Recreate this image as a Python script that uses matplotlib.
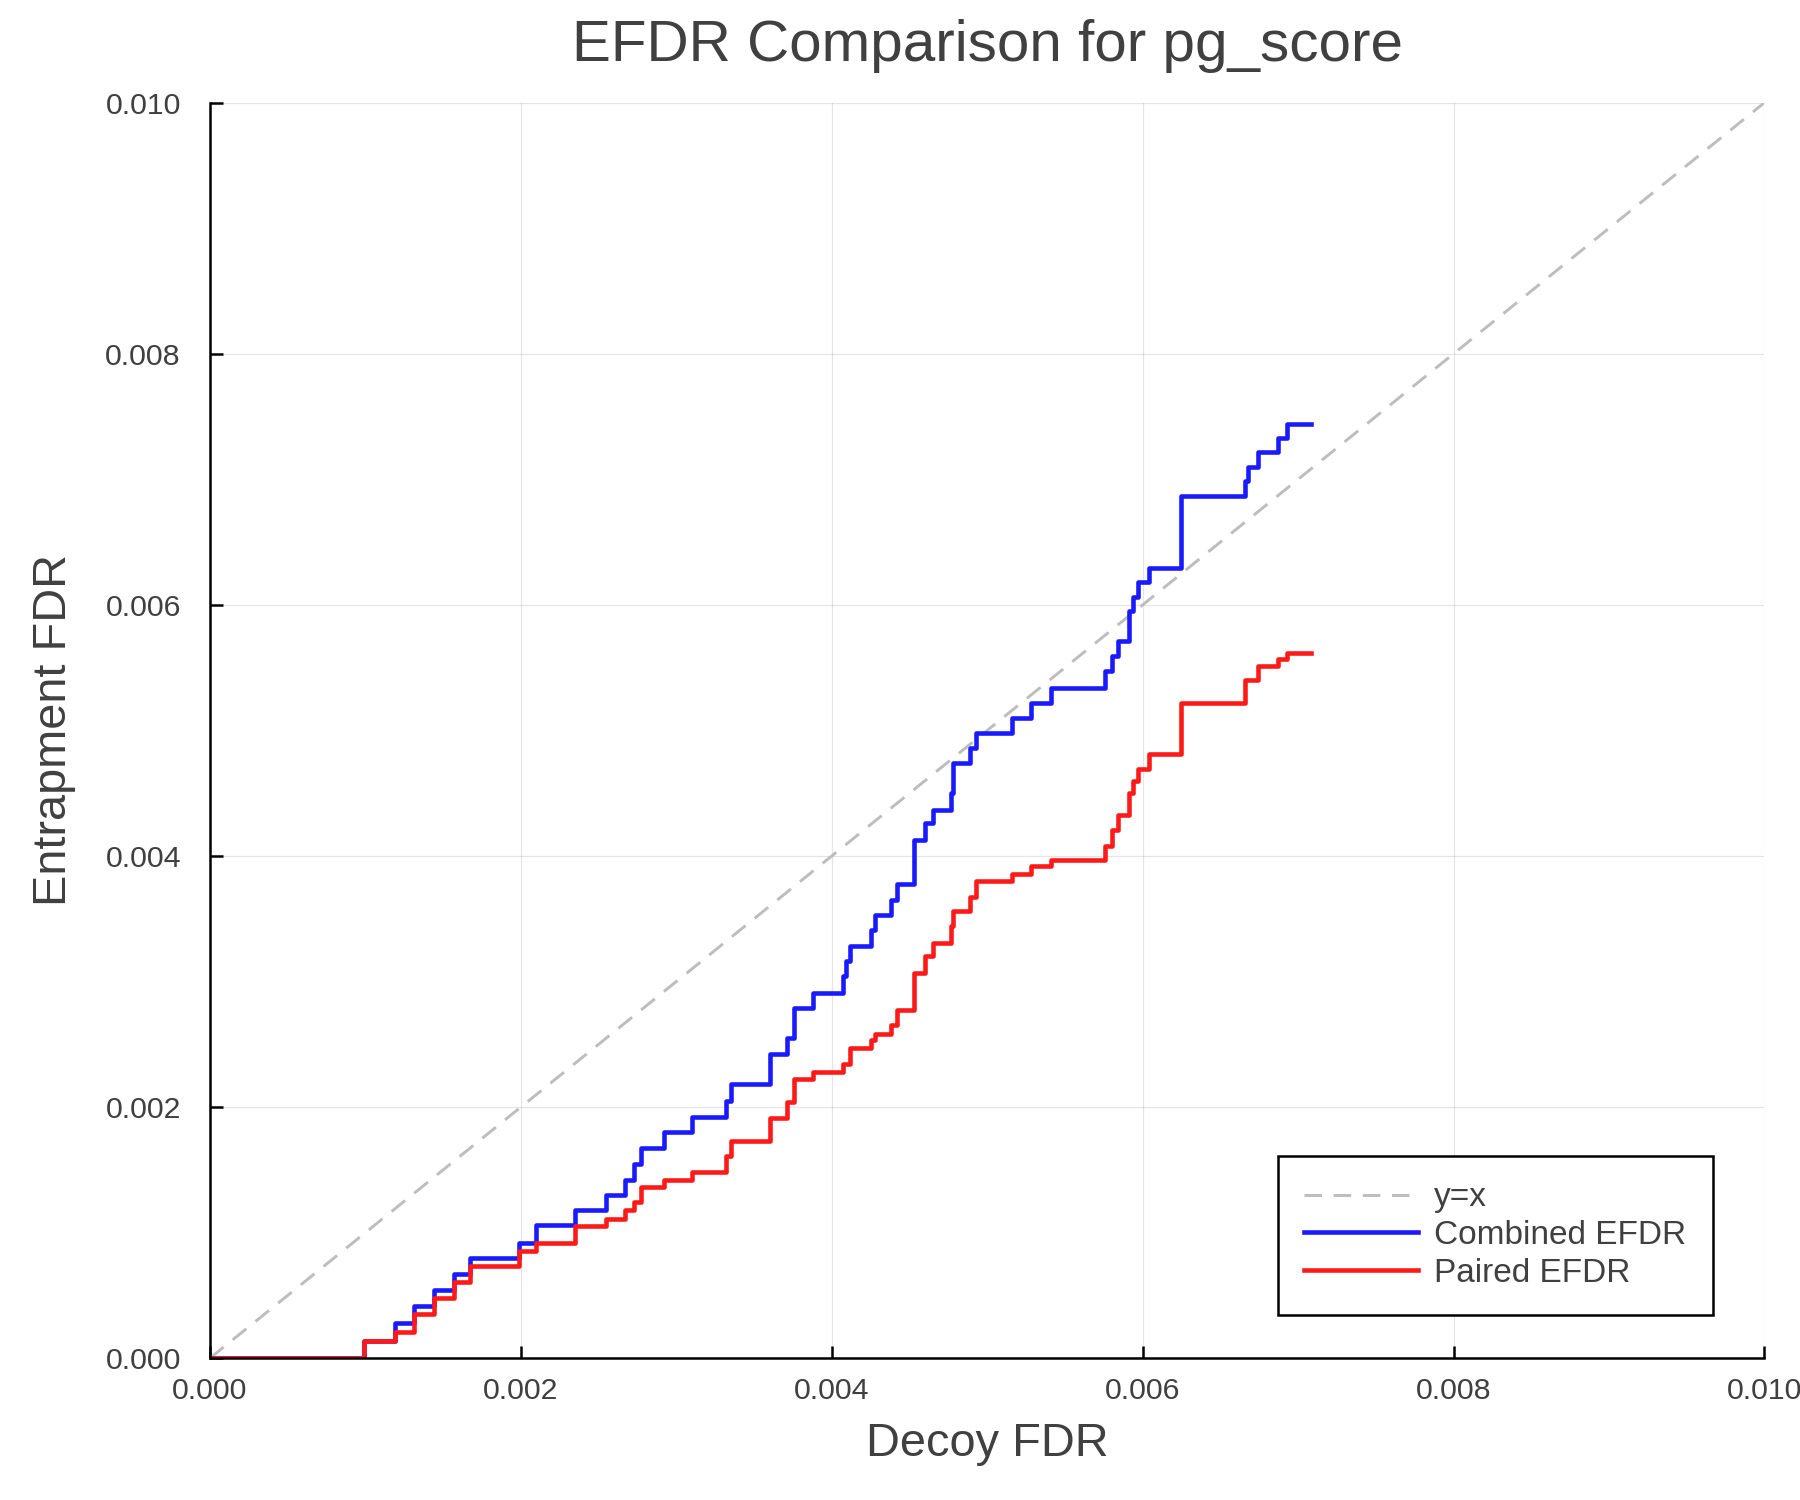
import matplotlib.pyplot as plt

plt.rcParams['font.family'] = ['Liberation Sans', 'DejaVu Sans']

# step breakpoints (decoy FDR -> entrapment FDR)
combined_x = [0.0, 0.00099, 0.00119, 0.00131, 0.00144, 0.00157, 0.00167, 0.00199,
              0.00210, 0.00235, 0.00255, 0.00267, 0.00273, 0.00277, 0.00292, 0.00310,
              0.00332, 0.00335, 0.00360, 0.00371, 0.00376, 0.00388, 0.00407, 0.00409,
              0.00412, 0.00425, 0.00428, 0.00438, 0.00442, 0.00453, 0.00460, 0.00465,
              0.00477, 0.00478, 0.00489, 0.00493, 0.00516, 0.00528, 0.00541, 0.00576,
              0.00580, 0.00584, 0.00591, 0.00594, 0.00597, 0.00604, 0.00625, 0.00666,
              0.00668, 0.00674, 0.00687, 0.00693, 0.00708]
combined_y = [0.0, 0.000138, 0.000276, 0.000414, 0.000542, 0.000671, 0.00080, 0.00092,
              0.00106, 0.00118, 0.00130, 0.00142, 0.00155, 0.00167, 0.00180, 0.00192,
              0.00205, 0.00218, 0.00242, 0.00255, 0.00279, 0.00291, 0.00304, 0.00316,
              0.00328, 0.00341, 0.00353, 0.00365, 0.00378, 0.00413, 0.00426, 0.00437,
              0.00450, 0.00474, 0.00486, 0.00498, 0.00510, 0.00522, 0.00534, 0.00547,
              0.00559, 0.00571, 0.00595, 0.00606, 0.00618, 0.00629, 0.00687, 0.00699,
              0.00710, 0.00722, 0.00733, 0.00744, 0.00744]

paired_x = [0.0, 0.00099, 0.00119, 0.00131, 0.00144, 0.00157, 0.00167, 0.00199,
            0.00210, 0.00235, 0.00255, 0.00267, 0.00273, 0.00277, 0.00292, 0.00310,
            0.00332, 0.00335, 0.00360, 0.00371, 0.00376, 0.00388, 0.00407, 0.00412,
            0.00425, 0.00428, 0.00438, 0.00442, 0.00453, 0.00460, 0.00465, 0.00477,
            0.00478, 0.00489, 0.00493, 0.00516, 0.00528, 0.00541, 0.00576, 0.00580,
            0.00584, 0.00591, 0.00594, 0.00597, 0.00604, 0.00625, 0.00666, 0.00674,
            0.00687, 0.00693, 0.00708]
paired_y = [0.0, 0.000138, 0.00021, 0.00035, 0.00048, 0.00061, 0.00073, 0.00085,
            0.00092, 0.00105, 0.00111, 0.00118, 0.00124, 0.00136, 0.00142, 0.00148,
            0.00161, 0.00173, 0.00191, 0.00204, 0.00222, 0.00228, 0.00234, 0.00247,
            0.00253, 0.00258, 0.00265, 0.00277, 0.00307, 0.00320, 0.00331, 0.00344,
            0.00356, 0.00367, 0.00380, 0.00386, 0.00392, 0.00397, 0.00408, 0.00421,
            0.00433, 0.00450, 0.00460, 0.00469, 0.00481, 0.00522, 0.00540, 0.00551,
            0.00557, 0.00562, 0.00562]

ticks = [0.0, 0.002, 0.004, 0.006, 0.008, 0.010]
tick_labels = ["0.000", "0.002", "0.004", "0.006", "0.008", "0.010"]

text_col = '#404040'

fig = plt.figure(figsize=(12, 10), dpi=150)
ax = fig.add_axes([0.1167, 0.0946, 0.8635, 0.8369])

ax.plot([0, 0.01], [0, 0.01], color='#bdbdbd', lw=1.4, ls=(0, (6, 4)), label='y=x')
ax.plot(combined_x, combined_y, color='#1a1aff', lw=2.2, drawstyle='steps-post',
        label='Combined EFDR')
ax.plot(paired_x, paired_y, color='#ff1a1a', lw=2.2, drawstyle='steps-post',
        label='Paired EFDR')

ax.set_xlim(0, 0.01)
ax.set_ylim(0, 0.01)
ax.set_xticks(ticks)
ax.set_xticklabels(tick_labels)
ax.set_yticks(ticks)
ax.set_yticklabels(tick_labels)
ax.grid(True, color='black', alpha=0.1, lw=0.6)
ax.set_axisbelow(True)

for side in ['top', 'right']:
    ax.spines[side].set_visible(False)
for side in ['left', 'bottom']:
    ax.spines[side].set_linewidth(1.2)
ax.tick_params(direction='in', length=6, width=1.2, labelsize=14.5, colors='black',
               labelcolor=text_col)
ax.tick_params(axis='y', pad=14)
ax.tick_params(axis='x', pad=9)

ax.set_xlabel('Decoy FDR', fontsize=22.5, color=text_col, labelpad=8)
ax.set_ylabel('Entrapment FDR', fontsize=22.5, color=text_col, labelpad=14)
ax.set_title('EFDR Comparison for pg_score', fontsize=28, color=text_col, pad=20)

leg = ax.legend(loc='lower right', bbox_to_anchor=(0.967, 0.034), fontsize=16,
                fancybox=False, edgecolor='black', framealpha=1, handlelength=3.4,
                handletextpad=0.5, borderpad=0.8, labelspacing=0.2, borderaxespad=0)
leg.get_frame().set_linewidth(1.2)
for t in leg.get_texts():
    t.set_color(text_col)

fig.savefig('out.png', dpi=150)
